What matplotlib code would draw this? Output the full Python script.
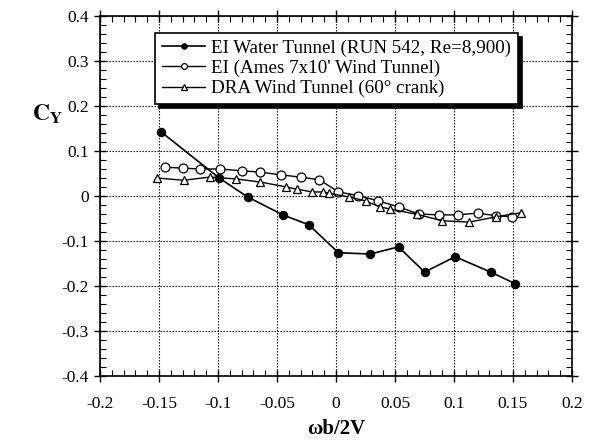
import matplotlib
matplotlib.use("Agg")
import matplotlib.pyplot as plt
from matplotlib.ticker import MultipleLocator

water_x = [-0.148, -0.099, -0.075, -0.045, -0.023, 0.002, 0.029, 0.053, 0.075, 0.101, 0.131, 0.152]
water_y = [0.142, 0.040, -0.002, -0.042, -0.064, -0.126, -0.129, -0.113, -0.169, -0.135, -0.169, -0.195]

ames_x = [-0.145, -0.130, -0.115, -0.098, -0.080, -0.064, -0.047, -0.030, -0.014, 0.002, 0.019, 0.036,
          0.053, 0.070, 0.087, 0.103, 0.120, 0.136, 0.149]
ames_y = [0.064, 0.062, 0.060, 0.060, 0.056, 0.053, 0.047, 0.042, 0.036, 0.009, 0.001, -0.011,
          -0.024, -0.040, -0.042, -0.042, -0.038, -0.044, -0.046]

dra_x = [-0.152, -0.129, -0.107, -0.085, -0.064, -0.042, -0.033, -0.020, -0.011, -0.006, 0.011, 0.025,
         0.037, 0.046, 0.069, 0.090, 0.113, 0.136, 0.157]
dra_y = [0.040, 0.035, 0.042, 0.038, 0.031, 0.020, 0.015, 0.009, 0.009, 0.006, -0.002, -0.011,
         -0.024, -0.029, -0.041, -0.055, -0.058, -0.046, -0.037]

labels = ["EI Water Tunnel (RUN 542, Re=8,900)",
          "EI (Ames 7x10' Wind Tunnel)",
          "DRA Wind Tunnel (60° crank)"]

plt.rcParams['font.family'] = ['Liberation Serif', 'DejaVu Serif']

fig = plt.figure(figsize=(5.9, 4.47), dpi=100)
ax = fig.add_axes([100/590, 1-376/447, 472/590, 360/447])

ax.plot(water_x, water_y, '-o', color='black', lw=1.2, ms=5.8, mfc='black', label=labels[0])
ax.plot(ames_x, ames_y, '-o', color='black', lw=1.0, ms=6.4, mfc='white', mew=0.9, label=labels[1])
ax.plot(dra_x, dra_y, '-^', color='black', lw=1.0, ms=6.2, mfc='white', mew=0.9, label=labels[2])

ax.set_xlim(-0.2, 0.2)
ax.set_ylim(-0.4, 0.4)
ax.xaxis.set_major_locator(MultipleLocator(0.05))
ax.xaxis.set_minor_locator(MultipleLocator(0.01))
ax.yaxis.set_major_locator(MultipleLocator(0.1))
ax.yaxis.set_minor_locator(MultipleLocator(0.02))

def fmt(v, pos):
    s = f"{v:.2f}".rstrip('0').rstrip('.')
    if s in ("-0", "0"):
        return "0"
    return s
ax.xaxis.set_major_formatter(plt.FuncFormatter(fmt))
ax.yaxis.set_major_formatter(plt.FuncFormatter(fmt))

ax.tick_params(which='major', direction='inout', length=9, width=1, top=True, right=True, labelsize=12.5)
ax.tick_params(axis='x', which='major', pad=10)
ax.tick_params(which='minor', direction='in', length=4, width=0.8, top=True, right=True)
ax.grid(True, which='major', linestyle=(0, (1.2, 1.5)), color='black', lw=0.8)
for s in ax.spines.values():
    s.set_linewidth(1.2)

ax.set_xlabel("ωb/2V", fontsize=15, fontweight='bold', labelpad=5)
fig.text(0.055, 0.745, r"$\mathbf{C_Y}$", fontsize=17, ha='left', va='center',
         family='serif', math_fontfamily='stix')

leg = ax.legend(loc='upper left', bbox_to_anchor=(0.1165, 0.953), borderaxespad=0,
                fontsize=13.7, frameon=True, fancybox=False, edgecolor='black',
                shadow={'color': 'black', 'alpha': 1, 'ox': 3, 'oy': -3}, handlelength=2.3,
                handletextpad=0.3, borderpad=0.35, labelspacing=0.15, markerscale=0.65)
leg.get_frame().set_linewidth(1.2)
leg.get_frame().set_alpha(1)

fig.savefig("out.png", dpi=100)
